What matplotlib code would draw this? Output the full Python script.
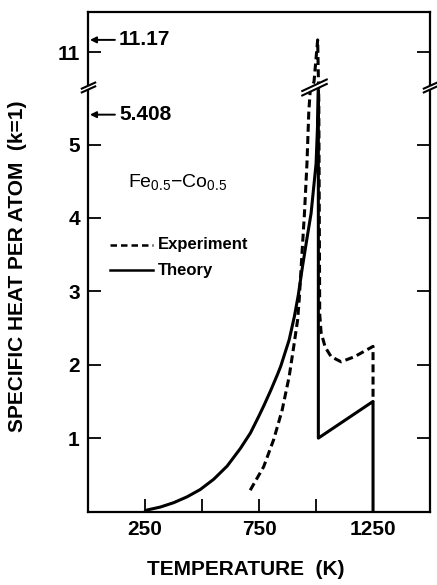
import numpy as np
import matplotlib
matplotlib.use("Agg")
import matplotlib.pyplot as plt
from matplotlib.path import Path
from matplotlib.markers import MarkerStyle

plt.rcParams['font.family'] = ['Liberation Sans', 'DejaVu Sans']
plt.rcParams['mathtext.fontset'] = 'custom'
plt.rcParams['mathtext.rm'] = 'Liberation Sans'
plt.rcParams['mathtext.it'] = 'Liberation Sans:italic'
plt.rcParams['mathtext.bf'] = 'Liberation Sans:bold'

# ---------------- data ----------------
theory_T = [250, 258, 316, 375, 434, 492, 551, 610, 668, 712, 749, 772, 801, 831, 845, 882, 905, 922,
            941, 960, 978, 1000, 1007, 1010, 1010, 1250, 1250]
theory_C = [0.0, 0.02, 0.06, 0.12, 0.20, 0.30, 0.44, 0.62, 0.86, 1.07, 1.30, 1.45, 1.65, 1.87, 1.98,
            2.34, 2.66, 2.95, 3.35, 3.72, 4.06, 4.74, 5.30, 5.74, 1.0, 1.5, 0.0]

exp_T = [711, 770, 814, 851, 882, 904, 919, 926, 934, 949, 960, 968, 974, 991, 1007, 1012, 1016,
         1022, 1040, 1066, 1110, 1169, 1250, 1250]
exp_C = [0.29, 0.61, 0.98, 1.38, 1.84, 2.29, 2.61, 2.89, 3.30, 4.06, 4.74, 5.44, 5.72, 10.6, 11.17,
         5.6, 2.69, 2.44, 2.24, 2.11, 2.04, 2.11, 2.25, 1.5]

x_ticks = [250, 500, 750, 1000, 1250]
x_ticklabels = ['250', '', '750', '', '1250']
y_ticks = [1, 2, 3, 4, 5, 11]
y_ticklabels = ['1', '2', '3', '4', '5', '11']
peak_exp_label = '11.17'
peak_exp_value = 11.17
peak_th_label = '5.408'
peak_th_value = 5.408

# broken y-axis: [0, A] and [B, top]
A, B, EPS = 5.74, 10.58, 0.02
Y_TOP = 11.55


def fwd(y):
    y = np.asarray(y, dtype=float)
    return np.where(y <= A, y,
                    np.where(y >= B, y - (B - A) * (1 - EPS), A + (y - A) * EPS))


def inv(z):
    z = np.asarray(z, dtype=float)
    zB = A + (B - A) * EPS
    return np.where(z <= A, z,
                    np.where(z >= zB, z + (B - A) * (1 - EPS), A + (z - A) / EPS))


W, H = 437, 585
fig = plt.figure(figsize=(W / 100, H / 100), dpi=100)
left_px, right_px, top_px, bot_px = 88.2, 430.0, 12.0, 511.5
ax = fig.add_axes([left_px / W, 1 - bot_px / H, (right_px - left_px) / W, (bot_px - top_px) / H])
ax.set_yscale('function', functions=(fwd, inv))
ax.set_xlim(0, 1500)
ax.set_ylim(0, Y_TOP)

lw = 2.2
ax.plot(theory_T, theory_C, color='black', lw=lw, solid_joinstyle='round', zorder=3)
ax.plot(exp_T, exp_C, color='black', lw=lw, linestyle=(0, (2.6, 1.4)), zorder=3)

for s in ax.spines.values():
    s.set_linewidth(1.6)

ax.set_xticks(x_ticks)
ax.set_xticklabels(x_ticklabels)
ax.set_yticks(y_ticks)
ax.set_yticklabels(y_ticklabels)
ax.yaxis.set_minor_locator(matplotlib.ticker.NullLocator())
ax.xaxis.set_minor_locator(matplotlib.ticker.NullLocator())
ax.tick_params(axis='both', direction='in', length=9.5, width=1.3, labelsize=15, pad=6)
ax.tick_params(axis='y', right=True, labelright=False)
ax.tick_params(axis='x', top=False)
for t in ax.get_xticklabels() + ax.get_yticklabels():
    t.set_fontweight('bold')

ax.set_xlabel('TEMPERATURE  (K)', fontsize=15, fontweight='bold')
ax.xaxis.set_label_coords(0.46, -0.097)
ax.set_ylabel('SPECIFIC HEAT PER ATOM  (k=1)', fontsize=15, fontweight='bold')
ax.yaxis.set_label_coords(-0.18, 0.49)

# break marks (white gap + two slashes), drawn as custom markers
def break_markers(slope, sep, half=1.0):
    dy = slope * half
    fill = Path([(-half, -dy - sep), (half, dy - sep), (half, dy + sep), (-half, -dy + sep), (-half, -dy - sep)],
                [Path.MOVETO, Path.LINETO, Path.LINETO, Path.LINETO, Path.CLOSEPOLY])
    lines = Path([(-half, -dy - sep), (half, dy - sep), (-half, -dy + sep), (half, dy + sep)],
                 [Path.MOVETO, Path.LINETO, Path.MOVETO, Path.LINETO])
    return fill, lines


ymid = (A + B) / 2
trans_axis = matplotlib.transforms.blended_transform_factory(ax.transAxes, ax.transData)
for (xx, tr, size, slope, sep) in [(0.0, trans_axis, 11, 0.45, 0.25),
                                   (1.0, trans_axis, 11, 0.45, 0.25),
                                   (990, ax.transData, 19, 0.47, 0.17)]:
    fill, lines = break_markers(slope, sep)
    ax.plot([xx], [ymid], transform=tr, marker=MarkerStyle(fill), ms=size, mfc='white', mec='none',
            ls='none', clip_on=False, zorder=5)
    ax.plot([xx], [ymid], transform=tr, marker=MarkerStyle(lines), ms=size, mfc='none', mec='black',
            mew=1.5, ls='none', clip_on=False, zorder=6)

# arrows to peak values
for lab, val in [(peak_exp_label, peak_exp_value), (peak_th_label, peak_th_value)]:
    ax.annotate(lab, xy=(0.005, val), xycoords=trans_axis, xytext=(21, 0), textcoords='offset points',
                va='center', ha='left', fontsize=15, fontweight='bold',
                arrowprops=dict(arrowstyle='-|>', color='black', lw=1.4, shrinkA=1, shrinkB=0,
                                mutation_scale=9))

# legend / composition label
ax.text(0.115, 0.66, r'Fe$_{\mathrm{0.5}}$$-$Co$_{\mathrm{0.5}}$', transform=ax.transAxes,
        fontsize=14, ha='left', va='center')
ax.plot([0.064, 0.19], [0.534, 0.534], transform=ax.transAxes, color='black', lw=1.8,
        linestyle=(0, (2.6, 1.6)))
ax.plot([0.064, 0.19], [0.483, 0.483], transform=ax.transAxes, color='black', lw=1.8)
ax.text(0.205, 0.534, 'Experiment', transform=ax.transAxes, fontsize=12, fontweight='bold',
        ha='left', va='center')
ax.text(0.205, 0.483, 'Theory', transform=ax.transAxes, fontsize=12, fontweight='bold',
        ha='left', va='center')

fig.savefig('out.png', dpi=100)
